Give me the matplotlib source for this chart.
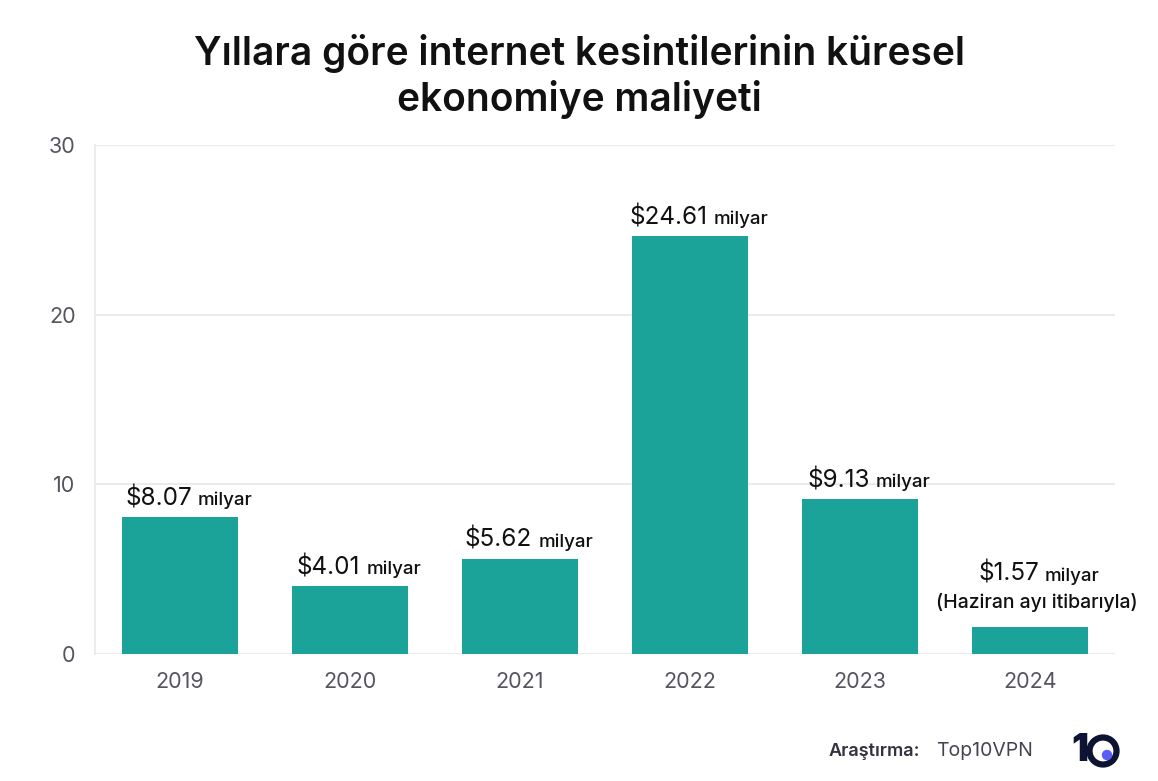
import matplotlib
matplotlib.use("Agg")
import matplotlib.pyplot as plt
from matplotlib.patches import Ellipse

years = ["2019", "2020", "2021", "2022", "2023", "2024"]
values = [8.07, 4.01, 5.62, 24.61, 9.13, 1.57]
value_labels = ["$8.07", "$4.01", "$5.62", "$24.61", "$9.13", "$1.57"]
unit_label = "milyar"
note_2024 = "(Haziran ayı itibarıyla)"
yticks = [0, 10, 20, 30]
title = "Yıllara göre internet kesintilerinin küresel\nekonomiye maliyeti"

FONT = ["Inter", "DejaVu Sans"]
plt.rcParams['font.family'] = FONT

W, H = 1158, 781
fig = plt.figure(figsize=(W / 100, H / 100), dpi=100)
ax = fig.add_axes([95 / W, 127 / H, 1020 / W, 509 / H])

bar_color = "#1ba399"
x = list(range(len(years)))
ax.bar(x, values, width=0.68, color=bar_color, zorder=3)
ax.set_xlim(-0.5, 5.5)
ax.set_ylim(0, 30)
ax.set_yticks(yticks)
ax.set_xticks(x)
ax.set_xticklabels(years)
ax.tick_params(axis="both", length=0, labelsize=15.5, colors="#55555f")
ax.tick_params(axis="x", pad=13)
ax.tick_params(axis="y", pad=14)
ax.grid(axis="y", color="#ebebeb", linewidth=1.5, zorder=0)
for s in ["top", "right", "bottom"]:
    ax.spines[s].set_visible(False)
ax.spines["left"].set_color("#ebebeb")
ax.spines["left"].set_linewidth(1.5)

fig.text(0.5, 0.902, title, ha="center", va="center", fontsize=28,
         fontweight="semibold", color="#111111", linespacing=1.22)

# value labels: mixed size text centered (slightly right-shifted) above bars
fig.canvas.draw()
renderer = fig.canvas.get_renderer()
k = 72 / 100
shift_px = 9
for i, (v, vl) in enumerate(zip(values, value_labels)):
    yoff = 5 if i != 5 else 30
    t1 = ax.annotate(vl, (i, v), xytext=(0, yoff), textcoords="offset points",
                     ha="left", va="bottom", fontsize=17.5, color="#111111")
    t2 = ax.annotate(unit_label, (i, v), xytext=(0, yoff), textcoords="offset points",
                     ha="left", va="bottom", fontsize=13.5, color="#111111",
                     fontweight="medium")
    w1 = t1.get_window_extent(renderer).width
    w2 = t2.get_window_extent(renderer).width
    gap = 6
    total = w1 + gap + w2
    start = -total / 2 + shift_px
    t1.xyann = (start * k, yoff)
    t2.xyann = ((start + w1 + gap) * k, yoff + 0.8)
    if i == 5:
        ax.annotate(note_2024, (i, v), xytext=(7 * k, 11), textcoords="offset points",
                    ha="center", va="bottom", fontsize=14, color="#111111",
                    fontweight="medium")

# footer
fig.text(920 / W, 1 - 751 / H, "Araştırma:", ha="right", va="center",
         fontsize=13, fontweight="semibold", color="#333340")
fig.text(936 / W, 1 - 751 / H, "Top10VPN", ha="left", va="center",
         fontsize=14, color="#444450")
fig.text(1080 / W, 1 - 751 / H, "1", ha="center", va="center",
         fontsize=27, fontweight="black", color="#0d1433")
ring = Ellipse((1103 / W, 1 - 751 / H), 27 / W, 27 / H, transform=fig.transFigure,
               fill=False, edgecolor="#0d1433", linewidth=4.5)
fig.add_artist(ring)
dot = Ellipse((1107 / W, 1 - 755 / H), 9 / W, 9 / H, transform=fig.transFigure,
              color="#5b5cf6")
fig.add_artist(dot)

fig.savefig("out.png", dpi=100, facecolor="white")
